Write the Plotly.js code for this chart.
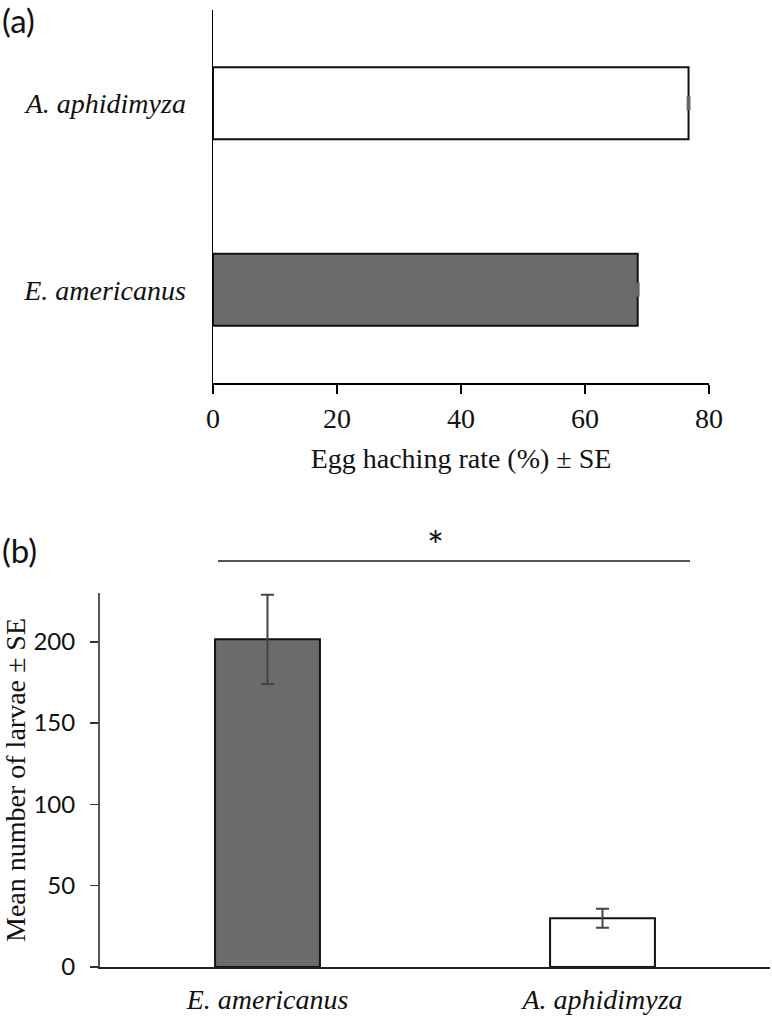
<!DOCTYPE html>
<html>
<head>
<meta charset="utf-8">
<script src="https://cdn.plot.ly/plotly-3.0.1.min.js"></script>
<style>html,body{margin:0;padding:0;background:#fff;}#chart{width:772px;height:1018px;}</style>
</head>
<body>
<div id="chart"></div>
<script>
// Panel (a): egg hatching rate
const hatchSpecies = ["E. americanus", "A. aphidimyza"];
const hatchRate = [68.5, 76.7];
const hatchSE = [0.15, 0.15];
const hatchColors = ["#6b6b6b", "#ffffff"];
const hatchTicks = [0, 20, 40, 60, 80];

// Panel (b): mean number of larvae
const larvaeSpecies = ["E. americanus", "A. aphidimyza"];
const larvaeMean = [201.5, 30];
const larvaeSE = [27.5, 5.8];
const larvaeColors = ["#6b6b6b", "#ffffff"];
const larvaeTicks = [0, 50, 100, 150, 200];

const serif = "Liberation Serif, Times New Roman, serif";
const sans = "Lato, Open Sans, sans-serif";
const W = 772, H = 1018;
const px = v => v / W;
const py = v => 1 - v / H;

const traces = [
  {
    type: "bar", orientation: "h",
    y: hatchSpecies.map(s => "<i>" + s + "</i>"), x: hatchRate,
    xaxis: "x", yaxis: "y",
    width: 0.387,
    marker: {color: hatchColors, line: {color: "#111", width: 2}},
    error_x: {type: "data", array: hatchSE, visible: true, color: "#666", thickness: 2, width: 7},
    hoverinfo: "none", showlegend: false
  },
  {
    type: "bar",
    x: larvaeSpecies.map(s => "<i>" + s + "</i>"), y: larvaeMean,
    xaxis: "x2", yaxis: "y2",
    width: 0.313,
    marker: {color: larvaeColors, line: {color: "#111", width: 2}},
    error_y: {type: "data", array: larvaeSE, visible: true, color: "#444", thickness: 2, width: 6.5},
    hoverinfo: "none", showlegend: false
  }
];

const layout = {
  width: W, height: H,
  margin: {l: 0, r: 0, t: 0, b: 0},
  paper_bgcolor: "#fff", plot_bgcolor: "rgba(0,0,0,0)",
  showlegend: false,
  bargap: 0,
  xaxis: {
    domain: [px(213), px(709)], anchor: "y",
    range: [0, 80], tickvals: hatchTicks, ticktext: hatchTicks.map(String),
    showgrid: false, zeroline: false,
    showline: true, linecolor: "#000", linewidth: 2,
    ticks: "outside", ticklen: 9, tickwidth: 2, tickcolor: "#000",
    tickfont: {family: serif, size: 28, color: "#111"},
    ticklabelstandoff: 0,
    title: {text: "Egg haching rate (%) ± SE", font: {family: serif, size: 28, color: "#111"}, standoff: 16},
    automargin: false, fixedrange: true
  },
  xaxis3: {
    overlaying: "x", matches: "x", anchor: "y",
    range: [0, 80], tickvals: hatchTicks, showticklabels: false,
    showgrid: false, zeroline: false, showline: false,
    ticks: "inside", ticklen: 8, tickwidth: 2, tickcolor: "#000"
  },
  yaxis: {
    domain: [py(383), py(10)], anchor: "x",
    type: "category", range: [-0.5, 1.5],
    showgrid: false, zeroline: false,
    showline: true, linecolor: "#000", linewidth: 1.5,
    ticks: "", ticklabelstandoff: 20,
    tickfont: {family: serif, size: 28, color: "#111"},
    automargin: false, fixedrange: true
  },
  xaxis2: {
    domain: [px(100), px(770)], anchor: "y2",
    type: "category", range: [-0.5, 1.5],
    showgrid: false, zeroline: false,
    showline: true, linecolor: "#222", linewidth: 2,
    ticks: "", ticklabelstandoff: 6,
    tickfont: {family: serif, size: 28, color: "#111"},
    automargin: false, fixedrange: true
  },
  yaxis2: {
    domain: [py(967), py(593)], anchor: "x2",
    range: [0, 230], tickvals: larvaeTicks, ticktext: larvaeTicks.map(String),
    showgrid: false, zeroline: false,
    showline: true, linecolor: "#555", linewidth: 2,
    ticks: "outside", ticklen: 8, tickwidth: 1.5, tickcolor: "#333",
    tickfont: {family: sans, size: 24, color: "#111"},
    ticklabelstandoff: 10,
    title: {text: "Mean number of larvae ± SE", font: {family: serif, size: 28, color: "#111"}, standoff: 8},
    automargin: false, fixedrange: true
  },
  yaxis3: {
    overlaying: "y2", matches: "y2", anchor: "x2",
    range: [0, 230], tickvals: larvaeTicks, showticklabels: false,
    showgrid: false, zeroline: false, showline: false,
    ticks: "inside", ticklen: 8, tickwidth: 1.5, tickcolor: "#333"
  },
  shapes: [
    {type: "line", xref: "paper", yref: "paper", x0: px(218), x1: px(690), y0: py(561), y1: py(561),
     line: {color: "#555", width: 2}}
  ],
  annotations: [
    {text: "(a)", xref: "paper", yref: "paper", x: 0, y: py(20), xanchor: "left", yanchor: "middle",
     showarrow: false, font: {family: sans, size: 33, color: "#111"}},
    {text: "(b)", xref: "paper", yref: "paper", x: 0, y: py(550), xanchor: "left", yanchor: "middle",
     showarrow: false, font: {family: sans, size: 33, color: "#111"}},
    {text: "*", xref: "paper", yref: "paper", x: px(435), y: py(546), xanchor: "center", yanchor: "middle",
     showarrow: false, font: {family: sans, size: 40, color: "#111"}}
  ]
};

Plotly.newPlot("chart", traces, layout, {staticPlot: true, displayModeBar: false});
</script>
</body>
</html>
